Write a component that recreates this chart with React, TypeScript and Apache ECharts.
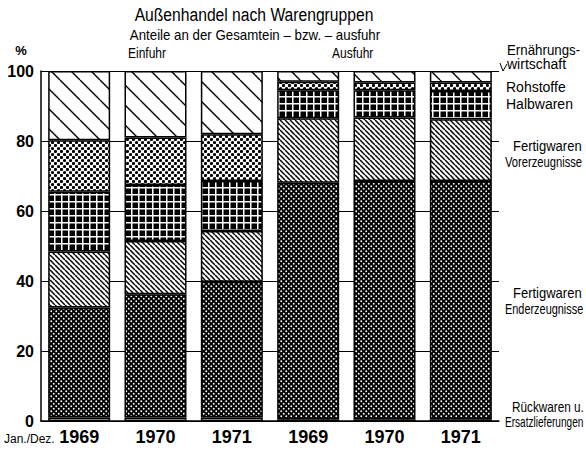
import React, { useEffect, useRef } from "react";
import * as echarts from "echarts";

// ---- data ----
const categories = ["Einfuhr 1969", "Einfuhr 1970", "Einfuhr 1971", "Ausfuhr 1969", "Ausfuhr 1970", "Ausfuhr 1971"];
const yearLabels = ["1969", "1970", "1971", "1969", "1970", "1971"];
const rueckwaren = [1.0, 1.0, 1.0, 0.5, 0.5, 0.5];
const enderzeugnisse = [31.4, 35.2, 38.8, 67.6, 68.1, 68.1];
const vorerzeugnisse = [16.0, 15.2, 14.5, 18.4, 18.1, 17.6];
const halbwaren = [17.1, 16.0, 14.3, 8.0, 7.8, 8.1];
const rohstoffe = [14.7, 13.6, 13.3, 2.4, 2.2, 2.4];
const ernaehrung = [19.8, 19.0, 18.1, 3.1, 3.3, 3.3];
const yMin = 0;
const yMax = 100;
const yInterval = 20;

const FONT = "'Liberation Sans',Arial,sans-serif";

function tile(w: number, h: number, draw: (ctx: CanvasRenderingContext2D, w: number, h: number) => void) {
  const c = document.createElement("canvas");
  c.width = w;
  c.height = h;
  const ctx = c.getContext("2d") as CanvasRenderingContext2D;
  draw(ctx, w, h);
  return c;
}

function diagTile(size: number, lw: number) {
  return tile(size, size, (ctx, w, h) => {
    ctx.fillStyle = "#fff";
    ctx.fillRect(0, 0, w, h);
    ctx.strokeStyle = "#000";
    ctx.lineWidth = lw;
    for (const k of [-w, 0, w]) {
      ctx.beginPath();
      ctx.moveTo(k, 0);
      ctx.lineTo(k + w, h);
      ctx.stroke();
    }
  });
}

function dotTile(size: number, r: number, bg: string, fg: string) {
  return tile(size, size, (ctx, w, h) => {
    ctx.fillStyle = bg;
    ctx.fillRect(0, 0, w, h);
    ctx.fillStyle = fg;
    const pts = [
      [w / 4, h / 4],
      [(3 * w) / 4, (3 * h) / 4],
    ];
    for (const [x, y] of pts) {
      ctx.beginPath();
      ctx.arc(x, y, r, 0, Math.PI * 2);
      ctx.fill();
    }
  });
}

function gridTile(size: number, lw: number) {
  return tile(size, size, (ctx, w, h) => {
    ctx.fillStyle = "#000";
    ctx.fillRect(0, 0, w, h);
    ctx.fillStyle = "#fff";
    ctx.fillRect(w - lw - 0.5, 0, lw, h);
    ctx.fillRect(0, h - lw - 0.5, w, lw);
  });
}

export default function App() {
  const ref = useRef<HTMLDivElement>(null);

  useEffect(() => {
    document.body.style.margin = "0";
    if (!ref.current) return;
    const chart = echarts.init(ref.current, undefined, { renderer: "svg" });

    const pat = (c: HTMLCanvasElement) => ({ image: c, repeat: "repeat" });
    const patterns = {
      rueck: "#ffffff",
      ender: pat(dotTile(5, 0.95, "#000", "#fff")),
      vor: pat(diagTile(5, 1.5)),
      halb: pat(gridTile(7, 1.5)),
      roh: pat(dotTile(6, 1.6, "#fff", "#000")),
      ern: pat(diagTile(20, 1.4)),
    };

    const mk = (name: string, data: number[], color: any) => ({
      name,
      type: "bar",
      stack: "total",
      barWidth: 62,
      data,
      itemStyle: { color, borderColor: "#000", borderWidth: 1.5 },
      emphasis: { disabled: true },
    });

    const text = (
      x: number,
      y: number,
      t: string,
      size: number,
      sx = 1,
      align = "left",
      weight = "normal"
    ) => ({
      type: "text",
      x,
      y,
      scaleX: sx,
      style: {
        text: t,
        fontSize: size,
        fontFamily: FONT,
        fontWeight: weight,
        fill: "#000",
        align,
        verticalAlign: "middle",
      },
    });

    chart.setOption({
      animation: false,
      grid: { left: 41, right: 87, top: 71, bottom: 35, containLabel: false },
      xAxis: {
        type: "category",
        data: categories,
        axisLine: { show: true, lineStyle: { color: "#000", width: 1.5 } },
        axisTick: { show: false },
        axisLabel: {
          formatter: (_v: string, i: number) => yearLabels[i],
          fontSize: 18,
          fontWeight: "bold",
          fontFamily: FONT,
          color: "#000",
          margin: 7,
        },
      },
      yAxis: {
        type: "value",
        min: yMin,
        max: yMax,
        interval: yInterval,
        axisLine: { show: true, lineStyle: { color: "#000", width: 1.5 } },
        axisTick: { show: false },
        splitLine: { show: true, lineStyle: { color: "#000", width: 1 } },
        axisLabel: {
          fontSize: 16,
          fontWeight: "bold",
          fontFamily: FONT,
          color: "#000",
          margin: 7,
        },
      },
      series: [
        mk("Rückwaren und Ersatzlieferungen", rueckwaren, patterns.rueck),
        mk("Fertigwaren Enderzeugnisse", enderzeugnisse, patterns.ender),
        mk("Fertigwaren Vorerzeugnisse", vorerzeugnisse, patterns.vor),
        mk("Halbwaren", halbwaren, patterns.halb),
        mk("Rohstoffe", rohstoffe, patterns.roh),
        mk("Ernährungswirtschaft", ernaehrung, patterns.ern),
      ],
      graphic: [
        text(254, 15, "Außenhandel nach Warengruppen", 18, 0.87, "center"),
        text(255, 35, "Anteile an der Gesamtein – bzw. – ausfuhr", 14, 0.95, "center"),
        text(128, 53, "Einfuhr", 15, 0.8),
        text(332, 53, "Ausfuhr", 15, 0.8),
        text(21, 50, "%", 13, 1, "center", "bold"),
        text(4, 439, "Jan./Dez.", 12, 1),
        text(507, 50, "Ernährungs-", 14, 0.95),
        text(507, 64, "wirtschaft", 14, 1),
        text(506, 87, "Rohstoffe", 14, 1),
        text(506, 104, "Halbwaren", 14, 1),
        text(513, 146, "Fertigwaren", 14, 0.93),
        text(505, 163, "Vorerzeugnisse", 14, 0.8),
        text(513, 293, "Fertigwaren", 14, 0.93),
        text(505, 310, "Enderzeugnisse", 14, 0.78),
        text(512, 407, "Rückwaren u.", 14, 0.84),
        text(505, 422, "Ersatzlieferungen", 14, 0.72),
        {
          type: "polyline",
          shape: { points: [[500, 63], [503, 71], [507, 64]] },
          style: { stroke: "#000", lineWidth: 1, fill: "none" },
        },
      ],
    });

    return () => chart.dispose();
  }, []);

  return <div ref={ref} style={{ width: 586, height: 456 }} />;
}
